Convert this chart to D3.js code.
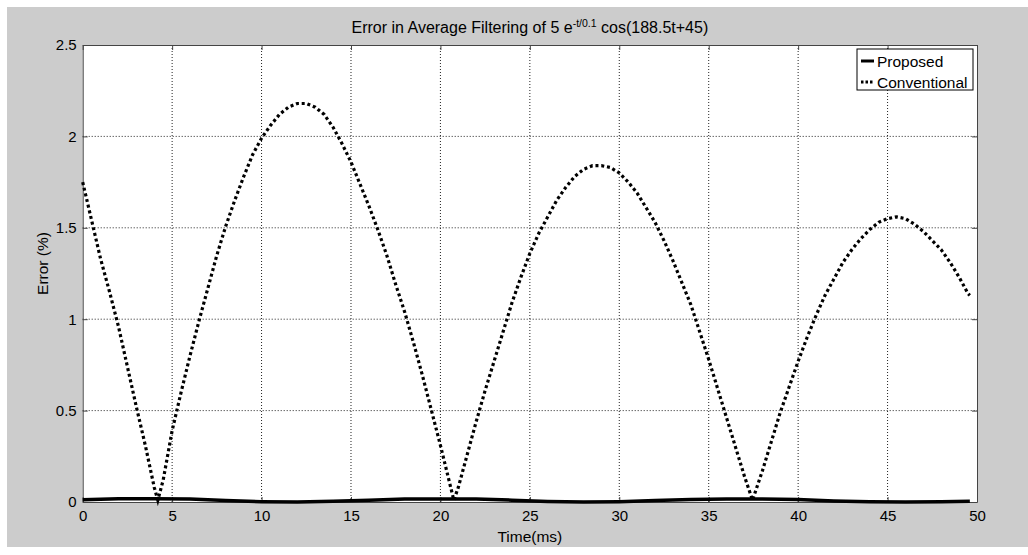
<!DOCTYPE html>
<html>
<head>
<meta charset="utf-8">
<script src="https://cdn.jsdelivr.net/npm/d3@7"></script>
<style>
  body { margin: 0; background: #fff; }
  text { font-family: "Liberation Sans", Arial, sans-serif; fill: #000; }
</style>
</head>
<body>
<div id="canvas"></div>
<script>
// time axis samples (ms) and error (%)
const convTime = [0, 0.5, 1, 1.5, 2, 2.5, 3, 3.5, 4, 4.2,
  4.5, 5, 5.5, 6, 6.5, 7, 7.5, 8, 8.5, 9, 9.5, 10, 10.5, 11, 11.5, 12, 12.5, 13, 13.5, 14, 14.5,
  15, 15.5, 16, 16.5, 17, 17.5, 18, 18.5, 19, 19.5, 20, 20.5, 20.75,
  21, 21.5, 22, 22.5, 23, 23.5, 24, 24.5, 25, 25.5, 26, 26.5, 27, 27.5, 28, 28.5, 29, 29.5,
  30, 30.5, 31, 31.5, 32, 32.5, 33, 33.5, 34, 34.5, 35, 35.5, 36, 36.5, 37, 37.45,
  38, 38.5, 39, 39.5, 40, 40.5, 41, 41.5, 42, 42.5, 43, 43.5, 44, 44.5, 45, 45.5,
  46, 46.5, 47, 47.5, 48, 48.5, 49, 49.5, 49.6];
const convError = [1.75, 1.54, 1.33, 1.15, 0.96, 0.74, 0.52, 0.31, 0.08, 0.01,
  0.12, 0.39, 0.6, 0.8, 0.99, 1.17, 1.35, 1.51, 1.65, 1.78, 1.9, 1.99, 2.06, 2.12, 2.16, 2.18, 2.18, 2.16, 2.12, 2.05, 1.96,
  1.86, 1.74, 1.62, 1.49, 1.35, 1.19, 1.04, 0.87, 0.69, 0.5, 0.31, 0.11, 0.01,
  0.08, 0.26, 0.44, 0.61, 0.77, 0.93, 1.09, 1.23, 1.36, 1.47, 1.56, 1.65, 1.72, 1.78, 1.82, 1.84, 1.84, 1.83,
  1.8, 1.75, 1.69, 1.61, 1.53, 1.43, 1.32, 1.2, 1.08, 0.93, 0.78, 0.62, 0.46, 0.3, 0.14, 0.01,
  0.17, 0.33, 0.49, 0.63, 0.77, 0.9, 1.02, 1.13, 1.22, 1.31, 1.38, 1.44, 1.49, 1.53, 1.55, 1.56,
  1.55, 1.52, 1.48, 1.43, 1.38, 1.31, 1.23, 1.14, 1.13];

const propTime = [0, 2, 4, 6, 8, 10, 12, 14, 16, 18, 20, 22, 24, 26, 28, 30, 32, 34, 36, 38, 40, 42, 44, 46, 48, 49.6];
const propError = [0.012, 0.018, 0.018, 0.016, 0.008, 0.002, 0.0, 0.004, 0.01, 0.016, 0.017, 0.016, 0.01,
  0.003, 0.0, 0.002, 0.008, 0.013, 0.016, 0.016, 0.013, 0.006, 0.001, 0.0, 0.002, 0.004];

const xTicks = [0, 5, 10, 15, 20, 25, 30, 35, 40, 45, 50];
const yTicks = [0, 0.5, 1, 1.5, 2, 2.5];
const seriesNames = ["Proposed", "Conventional"];

const width = 1028;
const height = 555;
const margin = { top: 45, left: 82.7, bottom: 53, right: 51 };
const iwidth = width - margin.left - margin.right;
const iheight = height - margin.top - margin.bottom;

const svg = d3.select("#canvas").append("svg")
  .attr("width", width)
  .attr("height", height);

// grey figure background
svg.append("rect")
  .attr("x", 7).attr("y", 7)
  .attr("width", width - 7).attr("height", 540)
  .attr("fill", "#cccccc");

const g = svg.append("g").attr("transform", `translate(${margin.left},${margin.top})`);

g.append("rect")
  .attr("width", iwidth).attr("height", iheight)
  .attr("fill", "#fff");

const x = d3.scaleLinear().domain([0, 50]).range([0, iwidth]);
const y = d3.scaleLinear().domain([0, 2.5]).range([iheight, 0]);

// dotted grid
const grid = g.append("g").attr("class", "grid");
grid.selectAll(".gx").data(xTicks.slice(1, -1)).enter().append("line")
  .attr("x1", d => x(d)).attr("x2", d => x(d))
  .attr("y1", 0).attr("y2", iheight);
grid.selectAll(".gy").data(yTicks.slice(1, -1)).enter().append("line")
  .attr("y1", d => y(d)).attr("y2", d => y(d))
  .attr("x1", 0).attr("x2", iwidth);
grid.selectAll("line")
  .attr("stroke", "#222")
  .attr("stroke-width", 1)
  .attr("stroke-dasharray", "1,2");

// axes with inward ticks
const xAxis = g.append("g")
  .attr("transform", `translate(0, ${iheight})`)
  .call(d3.axisBottom(x).tickValues(xTicks).tickFormat(d3.format("d")).tickSizeInner(-5).tickSizeOuter(0).tickPadding(8));
const yAxis = g.append("g")
  .call(d3.axisLeft(y).tickValues(yTicks).tickFormat(d => d).tickSizeInner(-5).tickSizeOuter(0).tickPadding(6));
const xTop = g.append("g")
  .call(d3.axisTop(x).tickValues(xTicks).tickFormat("").tickSizeInner(-5).tickSizeOuter(0));
const yRight = g.append("g")
  .attr("transform", `translate(${iwidth}, 0)`)
  .call(d3.axisRight(y).tickValues(yTicks).tickFormat("").tickSizeInner(-5).tickSizeOuter(0));

[xAxis, yAxis, xTop, yRight].forEach(a => {
  a.select(".domain").attr("stroke", "#444");
  a.selectAll(".tick line").attr("stroke", "#444");
  a.selectAll("text")
    .style("font-family", "Liberation Sans, Arial, sans-serif")
    .style("font-size", "15px")
    .attr("fill", "#000");
});

// data lines
const line = d3.line().x(d => x(d[0])).y(d => y(d[1]));

g.append("path")
  .datum(convTime.map((t, i) => [t, convError[i]]))
  .attr("fill", "none")
  .attr("stroke", "#000")
  .attr("stroke-width", 3.2)
  .attr("stroke-dasharray", "3,2.8")
  .attr("d", line);

g.append("path")
  .datum(propTime.map((t, i) => [t, propError[i]]))
  .attr("fill", "none")
  .attr("stroke", "#000")
  .attr("stroke-width", 3.5)
  .attr("d", line);

// title
const title = svg.append("text")
  .attr("x", margin.left + iwidth / 2)
  .attr("y", 33)
  .attr("text-anchor", "middle")
  .style("font-size", "16px");
title.append("tspan").text("Error in Average Filtering of 5 e");
title.append("tspan").attr("dy", -6).style("font-size", "10.5px").text("-t/0.1");
title.append("tspan").attr("dy", 6).text(" cos(188.5t+45)");

// axis labels
svg.append("text")
  .attr("x", margin.left + iwidth / 2)
  .attr("y", 542)
  .attr("text-anchor", "middle")
  .style("font-size", "15.5px")
  .text("Time(ms)");

svg.append("text")
  .attr("transform", `translate(48, ${margin.top + iheight / 2 - 10}) rotate(-90)`)
  .attr("text-anchor", "middle")
  .style("font-size", "15.5px")
  .text("Error (%)");

// legend
const legend = svg.append("g").attr("transform", "translate(857, 49)");
legend.append("rect")
  .attr("width", 116).attr("height", 41)
  .attr("fill", "#fff")
  .attr("stroke", "#000")
  .attr("stroke-width", 1);
const rows = legend.selectAll(".row").data(seriesNames).enter().append("g")
  .attr("transform", (d, i) => `translate(0, ${12 + i * 21})`);
rows.append("line")
  .attr("x1", 4).attr("x2", 17)
  .attr("stroke", "#000")
  .attr("stroke-width", 3)
  .attr("stroke-dasharray", (d, i) => i === 0 ? null : "2.5,2");
rows.append("text")
  .attr("x", 20)
  .attr("y", 5.5)
  .style("font-size", "15.5px")
  .text(d => d);
</script>
</body>
</html>
